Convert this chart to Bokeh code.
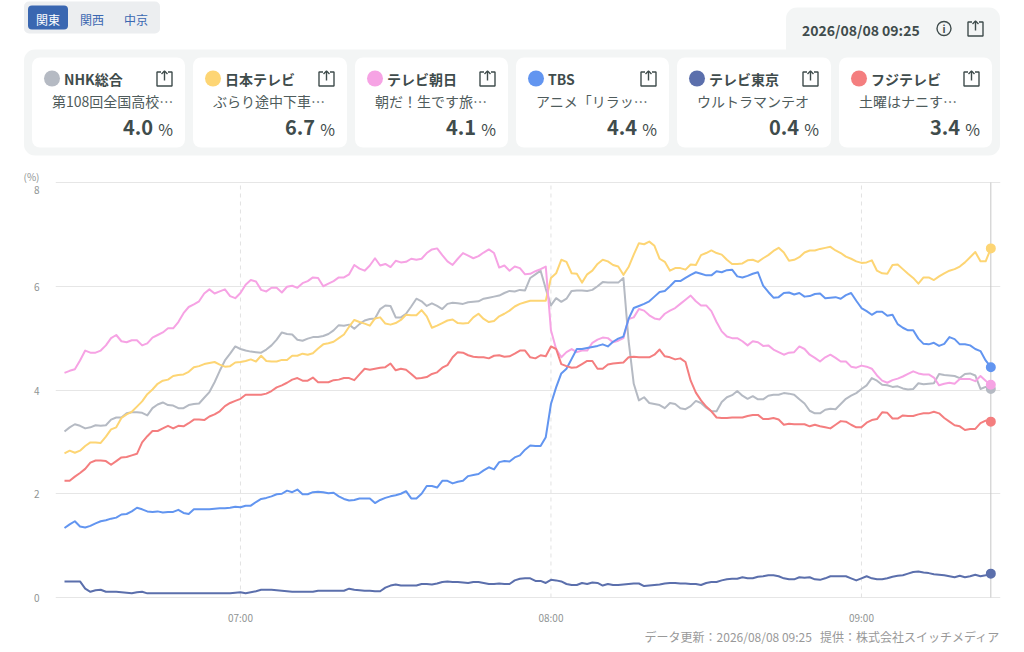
from bokeh.plotting import figure
from bokeh.layouts import column
from bokeh.models import FixedTicker, Range1d
from bokeh.core.properties import value
from bokeh.embed import file_html
from bokeh.resources import INLINE

FONT = "Noto Sans CJK JP"

channels = ["NHK総合", "日本テレビ", "テレビ朝日", "TBS", "テレビ東京", "フジテレビ"]
programs = ["第108回全国高校…", "ぶらり途中下車…", "朝だ！生です旅…", "アニメ「リラッ…", "ウルトラマンテオ", "土曜はナニす…"]
latest = ["4.0", "6.7", "4.1", "4.4", "0.4", "3.4"]
colors = ["#b5bac3", "#fdd574", "#f6a3e4", "#6295f0", "#5b6fac", "#f47e7f"]
regions = ["関東", "関西", "中京"]
stamp = "2026/08/08 09:25"
footer = "データ更新：2026/08/08 09:25\u00a0\u00a0\u00a0提供：株式会社スイッチメディア"
y_ticks = [0, 2, 4, 6]
y_top = 8
hour_ticks = {420: "07:00", 480: "08:00", 540: "09:00"}
first_minute = 386   # 06:26, one reading per minute

nhk = [
 3.20,3.28,3.34,3.31,3.26,3.28,3.32,3.31,3.32,3.43,
 3.47,3.47,3.55,3.57,3.57,3.56,3.51,3.65,3.72,3.76,
 3.71,3.70,3.65,3.65,3.71,3.73,3.74,3.85,3.96,4.15,
 4.37,4.57,4.70,4.84,4.79,4.76,4.74,4.73,4.72,4.78,
 4.86,4.97,5.11,5.08,5.07,4.97,4.95,4.99,5.02,5.02,
 5.04,5.08,5.15,5.25,5.24,5.26,5.18,5.27,5.34,5.37,
 5.38,5.56,5.63,5.62,5.40,5.40,5.47,5.61,5.76,5.71,
 5.62,5.67,5.62,5.56,5.66,5.68,5.67,5.66,5.69,5.70,
 5.71,5.76,5.78,5.80,5.82,5.87,5.91,5.90,5.93,5.92,
 6.16,6.23,6.30,5.95,5.63,5.77,5.70,5.76,5.91,5.92,
 5.92,5.91,5.93,6.00,6.08,6.07,6.07,6.07,6.16,4.95,
 4.12,3.80,3.86,3.75,3.73,3.71,3.65,3.75,3.73,3.65,
 3.63,3.69,3.79,3.75,3.66,3.59,3.59,3.77,3.86,3.90,
 3.98,3.89,3.83,3.88,3.82,3.82,3.89,3.91,3.91,3.94,
 3.93,3.91,3.82,3.74,3.60,3.55,3.55,3.62,3.64,3.63,
 3.73,3.83,3.89,3.94,4.02,4.09,4.23,4.18,4.10,4.09,
 4.06,4.07,4.03,4.01,4.02,4.13,4.11,4.12,4.13,4.31,
 4.29,4.28,4.27,4.23,4.31,4.32,4.28,4.02,4.06,4.02]
ntv = [
 2.78,2.83,2.79,2.83,2.92,2.99,2.99,2.98,3.10,3.24,
 3.28,3.46,3.53,3.58,3.68,3.78,3.92,4.01,4.12,4.18,
 4.20,4.27,4.29,4.30,4.35,4.44,4.46,4.50,4.52,4.54,
 4.49,4.45,4.46,4.53,4.54,4.56,4.59,4.55,4.66,4.56,
 4.55,4.55,4.58,4.58,4.66,4.66,4.70,4.68,4.71,4.80,
 4.88,4.90,4.93,5.00,5.07,5.22,5.35,5.31,5.28,5.24,
 5.38,5.40,5.28,5.26,5.29,5.35,5.45,5.44,5.44,5.54,
 5.42,5.20,5.24,5.29,5.34,5.36,5.29,5.28,5.29,5.40,
 5.47,5.37,5.31,5.33,5.42,5.47,5.53,5.61,5.66,5.69,
 5.72,5.72,5.72,5.72,6.16,6.25,6.51,6.47,6.25,6.24,
 6.07,6.23,6.30,6.43,6.51,6.48,6.41,6.38,6.22,6.37,
 6.61,6.83,6.81,6.86,6.78,6.53,6.47,6.30,6.35,6.35,
 6.32,6.42,6.41,6.60,6.64,6.69,6.64,6.61,6.51,6.43,
 6.43,6.44,6.50,6.51,6.47,6.54,6.60,6.68,6.74,6.65,
 6.49,6.51,6.56,6.65,6.69,6.69,6.72,6.74,6.76,6.69,
 6.64,6.57,6.53,6.48,6.45,6.46,6.50,6.30,6.25,6.24,
 6.41,6.42,6.33,6.24,6.16,6.05,6.17,6.17,6.12,6.19,
 6.25,6.30,6.33,6.38,6.46,6.56,6.66,6.48,6.48,6.73]
anb = [
 4.33,4.37,4.40,4.57,4.76,4.72,4.72,4.76,4.86,5.00,
 5.06,4.94,4.92,4.96,4.96,4.86,4.90,5.01,5.06,5.11,
 5.19,5.19,5.31,5.48,5.60,5.65,5.71,5.86,5.94,5.86,
 5.90,5.94,5.81,5.77,5.87,6.03,6.12,6.09,5.93,5.90,
 5.97,5.97,5.88,5.99,6.01,5.97,6.06,6.10,6.17,6.16,
 6.00,6.05,6.10,6.17,6.17,6.23,6.41,6.34,6.30,6.40,
 6.54,6.40,6.43,6.37,6.49,6.46,6.47,6.53,6.51,6.53,
 6.64,6.71,6.73,6.60,6.48,6.41,6.53,6.64,6.59,6.54,
 6.58,6.65,6.71,6.64,6.36,6.40,6.30,6.38,6.35,6.23,
 6.24,6.29,6.33,6.38,5.15,4.79,4.63,4.73,4.79,4.73,
 4.76,4.76,4.91,4.97,5.01,5.00,4.92,4.95,5.00,5.37,
 5.40,5.56,5.53,5.44,5.38,5.36,5.47,5.53,5.58,5.66,
 5.74,5.82,5.71,5.63,5.63,5.52,5.31,5.13,5.03,5.00,
 5.00,4.94,4.86,4.94,4.92,4.85,4.86,4.78,4.73,4.68,
 4.72,4.73,4.84,4.79,4.68,4.62,4.55,4.63,4.68,4.62,
 4.55,4.55,4.45,4.43,4.47,4.45,4.41,4.28,4.18,4.14,
 4.19,4.22,4.26,4.31,4.36,4.32,4.30,4.30,4.24,4.09,
 4.12,4.14,4.12,4.21,4.21,4.21,4.17,4.27,4.18,4.10]
tbs = [
 1.34,1.41,1.47,1.37,1.35,1.38,1.43,1.47,1.49,1.52,
 1.54,1.60,1.61,1.66,1.73,1.70,1.66,1.65,1.66,1.64,
 1.65,1.65,1.69,1.63,1.61,1.70,1.70,1.70,1.70,1.71,
 1.72,1.72,1.73,1.75,1.74,1.77,1.77,1.84,1.90,1.92,
 1.95,1.99,2.00,2.06,2.03,2.08,1.99,1.99,2.03,2.04,
 2.03,2.01,2.02,1.95,1.90,1.87,1.88,1.91,1.91,1.91,
 1.82,1.88,1.92,1.95,1.97,2.00,2.05,1.91,1.91,2.00,
 2.15,2.15,2.12,2.25,2.25,2.20,2.23,2.25,2.34,2.36,
 2.38,2.45,2.51,2.47,2.61,2.63,2.62,2.70,2.74,2.85,
 2.93,2.92,2.92,3.09,3.73,4.05,4.32,4.41,4.60,4.79,
 4.79,4.81,4.83,4.85,4.88,4.84,4.93,4.99,5.03,5.37,
 5.58,5.62,5.66,5.71,5.80,5.89,5.91,6.00,6.10,6.10,
 6.16,6.22,6.27,6.24,6.21,6.21,6.29,6.27,6.31,6.32,
 6.19,6.17,6.20,6.24,6.27,6.01,5.89,5.78,5.79,5.87,
 5.88,5.84,5.87,5.80,5.81,5.85,5.86,5.77,5.78,5.79,
 5.76,5.83,5.87,5.72,5.58,5.52,5.45,5.51,5.51,5.43,
 5.45,5.27,5.20,5.15,5.15,4.99,4.89,4.88,4.91,4.85,
 4.89,5.02,4.98,4.88,4.88,4.86,4.79,4.75,4.57,4.44]
tx = [
 0.31,0.31,0.31,0.31,0.17,0.11,0.14,0.15,0.11,0.11,
 0.11,0.10,0.09,0.08,0.10,0.11,0.08,0.08,0.08,0.08,
 0.08,0.08,0.08,0.08,0.08,0.08,0.08,0.08,0.08,0.08,
 0.08,0.08,0.08,0.09,0.10,0.08,0.10,0.12,0.15,0.15,
 0.15,0.14,0.13,0.12,0.11,0.11,0.11,0.11,0.11,0.13,
 0.13,0.13,0.13,0.13,0.13,0.17,0.15,0.14,0.13,0.13,
 0.12,0.12,0.19,0.23,0.25,0.23,0.23,0.23,0.23,0.26,
 0.26,0.25,0.27,0.30,0.31,0.30,0.30,0.29,0.28,0.30,
 0.30,0.28,0.26,0.26,0.27,0.26,0.26,0.33,0.36,0.37,
 0.37,0.32,0.32,0.28,0.34,0.33,0.31,0.26,0.24,0.24,
 0.28,0.26,0.29,0.28,0.23,0.26,0.24,0.24,0.25,0.26,
 0.27,0.27,0.22,0.23,0.24,0.25,0.27,0.28,0.28,0.27,
 0.27,0.26,0.26,0.24,0.28,0.30,0.30,0.33,0.35,0.36,
 0.36,0.39,0.37,0.37,0.40,0.41,0.43,0.43,0.41,0.37,
 0.35,0.35,0.39,0.38,0.39,0.35,0.34,0.37,0.41,0.41,
 0.41,0.41,0.37,0.33,0.37,0.41,0.37,0.35,0.35,0.37,
 0.40,0.42,0.43,0.46,0.49,0.50,0.48,0.47,0.45,0.44,
 0.43,0.41,0.39,0.42,0.39,0.41,0.44,0.41,0.43,0.46]
cx = [
 2.25,2.25,2.33,2.40,2.48,2.60,2.64,2.64,2.63,2.56,
 2.63,2.70,2.71,2.74,2.77,2.99,3.11,3.21,3.21,3.26,
 3.31,3.26,3.31,3.30,3.36,3.43,3.43,3.42,3.49,3.53,
 3.59,3.69,3.75,3.79,3.83,3.91,3.91,3.91,3.91,3.93,
 3.98,4.05,4.09,4.14,4.20,4.23,4.18,4.18,4.24,4.15,
 4.15,4.15,4.19,4.20,4.23,4.23,4.19,4.30,4.41,4.39,
 4.41,4.43,4.44,4.51,4.38,4.41,4.39,4.31,4.22,4.23,
 4.25,4.31,4.34,4.43,4.48,4.63,4.73,4.72,4.67,4.64,
 4.63,4.63,4.61,4.66,4.67,4.64,4.65,4.70,4.76,4.76,
 4.63,4.61,4.67,4.65,4.84,4.79,4.50,4.46,4.43,4.44,
 4.50,4.56,4.56,4.41,4.41,4.49,4.51,4.52,4.53,4.63,
 4.64,4.63,4.63,4.63,4.68,4.78,4.65,4.63,4.59,4.61,
 4.54,4.18,3.95,3.80,3.68,3.59,3.47,3.46,3.46,3.47,
 3.47,3.47,3.50,3.52,3.52,3.44,3.44,3.46,3.43,3.33,
 3.35,3.34,3.34,3.34,3.30,3.33,3.30,3.28,3.26,3.33,
 3.40,3.39,3.33,3.28,3.28,3.37,3.42,3.44,3.57,3.56,
 3.45,3.45,3.51,3.50,3.50,3.53,3.55,3.55,3.58,3.55,
 3.46,3.39,3.32,3.30,3.23,3.25,3.25,3.36,3.41,3.39]
series = [nhk, ntv, anb, tbs, tx, cx]
minutes = [first_minute + i for i in range(len(tbs))]
assert all(len(s) == len(minutes) for s in series), [len(s) for s in series]

W, TOP_H, CHART_END, TOTAL_H = 1008, 166, 628, 650
DARK, MID = "#3f4c4c", "#4f5c5c"
PANEL, BLUE = "#f3f5f5", "#3a67b1"
TICK_GRAY = "#8f9494"

def strip(top, bottom):
    """A figure without axes whose data units are page pixels."""
    f = figure(width=W, height=bottom - top, x_range=Range1d(0.5, W + 0.5),
               y_range=Range1d(bottom + 1, top + 1),
               x_axis_location=None, y_axis_location=None, toolbar_location=None,
               output_backend="svg", min_border=0, outline_line_color=None)
    f.grid.visible = False
    f.frame_align = False
    return f

head = strip(0, TOP_H)

def box(l, r, t, b, color, radius):
    head.quad(left=[l], right=[r], top=[t], bottom=[b], fill_color=color,
              line_color=None, border_radius=radius)

def txt(fig, x, y, s, size, color=DARK, bold=False, align="left"):
    fig.text(x=[x], y=[y], text=[s], text_font=value(FONT),
             text_font_size=f"{size}px", text_color=color, text_align=align,
             text_baseline="middle", text_font_style="bold" if bold else "normal")

def share(l, t):
    xs = [[l+4, l, l, l+15, l+15, l+11], [l+7.5, l+7.5], [l+4.5, l+7.5, l+10.5]]
    ys = [[t+1.5, t+1.5, t+15.5, t+15.5, t+1.5, t+1.5], [t+10, t+0.5], [t+3.5, t+0.5, t+3.5]]
    head.multi_line(xs=xs, ys=ys, line_color=DARK, line_width=1.4)

box(24, 160, 2, 34, "#eceef0", 5)
box(28, 68, 6, 30, BLUE, 4)
for i, r in enumerate(regions):
    txt(head, 48 + 44 * i, 19.5, r, 12, "#ffffff" if i == 0 else BLUE, align="center")

box(786, 1000, 8, 70, PANEL, 11)
box(24, 1000, 50, 156, PANEL, 11)
txt(head, 802, 30, stamp, 14, bold=True)
head.circle(x=[944], y=[29], radius=7, fill_color=None, line_color=DARK, line_width=1.4)
txt(head, 944, 29, "i", 10, bold=True, align="center")
share(968, 21)

card_left = [32, 193, 355, 516, 677, 839]
card_right = [185, 347, 508, 669, 831, 992]
for l, r, name, prog, val, col in zip(card_left, card_right, channels, programs, latest, colors):
    box(l, r, 58, 148, "#ffffff", 8)
    head.circle(x=[l + 20], y=[79], radius=8, fill_color=col, line_color=None)
    txt(head, l + 32, 79.5, name, 14, bold=True)
    txt(head, l + 20, 101.5, prog, 14, MID)
    txt(head, r - 32, 128, val, 20, bold=True, align="right")
    txt(head, r - 12, 129, "%", 16, align="right")
    share(r - 28, 71)

# ---------- the chart ----------
FRAME_L, FRAME_R, FRAME_T, FRAME_B = 55, 1000, TOP_H, 598
GRID_TOP_PX = 182
PX_MIN = 5.175
PX_UNIT = 51.875
x0 = first_minute - (64 - FRAME_L) / PX_MIN
x1 = first_minute + (FRAME_R - 64) / PX_MIN

p = figure(width=W, height=CHART_END - TOP_H, x_range=Range1d(x0, x1),
           y_range=Range1d(-1 / PX_UNIT, y_top + (GRID_TOP_PX - FRAME_T) / PX_UNIT),
           toolbar_location=None, output_backend="svg", outline_line_color=None,
           min_border_left=FRAME_L, min_border_right=W - FRAME_R,
           min_border_top=0, min_border_bottom=CHART_END - FRAME_B)
p.frame_align = False

# the top tick's label sits just under its gridline, the "(%)" note just above it
top_label_at = y_top - 7 / PX_UNIT
unit_label_at = y_top + 6 / PX_UNIT
p.yaxis.ticker = FixedTicker(ticks=y_ticks + [top_label_at, unit_label_at])
p.yaxis.major_label_overrides = {top_label_at: str(y_top), unit_label_at: "(%)"}
p.xaxis.ticker = FixedTicker(ticks=list(hour_ticks))
p.xaxis.major_label_overrides = hour_ticks
for ax in (p.xaxis[0], p.yaxis[0]):
    ax.axis_line_color = None
    ax.major_tick_line_color = None
    ax.minor_tick_line_color = None
    ax.major_label_text_font = FONT
    ax.major_label_text_font_size = "10px"
    ax.major_label_text_color = TICK_GRAY
p.yaxis.major_label_standoff = 10
p.xaxis.major_label_standoff = 5

p.ygrid.ticker = FixedTicker(ticks=y_ticks + [y_top])
p.ygrid.grid_line_color = "#e6e6e6"
p.ygrid.grid_line_width = 1
p.xgrid.visible = False

hours = list(hour_ticks)
p.segment(x0=hours, x1=hours, y0=[0] * len(hours), y1=[y_top] * len(hours),
          line_color="#e2e2e2", line_width=1, line_dash="4 4")
p.segment(x0=[minutes[-1]], x1=[minutes[-1]], y0=[0], y1=[y_top], line_color="#c6c6c6", line_width=1)

for name, vals, col in zip(channels, series, colors):
    p.line(minutes, vals, line_color=col, line_width=2, line_join="round")
for vals, col in zip(series, colors):
    p.scatter([minutes[-1]], [vals[-1]], size=10, fill_color=col, line_color=None)

# ---------- footer ----------
foot = strip(CHART_END, TOTAL_H)
txt(foot, 1000, 637, footer, 12, "#999999", align="right")

page = column(head, p, foot, spacing=0)
open("out.html", "w").write(file_html(page, INLINE))
